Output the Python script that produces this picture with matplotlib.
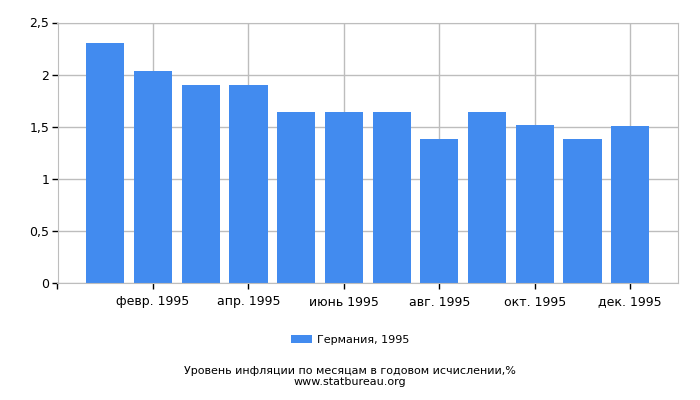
import matplotlib.pyplot as plt

months = ['янв. 1995', 'февр. 1995', 'март 1995', 'апр. 1995', 'май 1995', 'июнь 1995',
          'июль 1995', 'авг. 1995', 'сент. 1995', 'окт. 1995', 'нояб. 1995', 'дек. 1995']
inflation = [2.30, 2.03, 1.90, 1.90, 1.64, 1.64, 1.64, 1.38, 1.64, 1.52, 1.38, 1.51]
yticks = [0, 0.5, 1, 1.5, 2, 2.5]
ytick_labels = ['0', '0,5', '1', '1,5', '2', '2,5']

bar_color = '#428bef'
grid_color = '#bdbdbd'

fig = plt.figure(figsize=(7, 4), dpi=100)
ax = fig.add_axes([57.5 / 700, 1 - 283 / 400, 620.5 / 700, 260.5 / 400])

x = list(range(len(months)))
ax.bar(x, inflation, width=0.8, color=bar_color, label='Германия, 1995', zorder=2)

ax.set_xlim(-1, 12)
ax.set_ylim(0, 2.5)
ax.set_yticks(yticks)
ax.set_yticklabels(ytick_labels)

tick_pos = [-1] + x[1::2]
ax.set_xticks(tick_pos)
ax.set_xticklabels([''] + months[1::2])

ax.grid(True, color=grid_color, linewidth=1, zorder=0)
for s in ax.spines.values():
    s.set_color(grid_color)
ax.tick_params(axis='both', colors='black', labelsize=9, length=4, width=1)
ax.tick_params(axis='x', pad=5)
ax.tick_params(axis='y', pad=2)

fig.legend(loc='center', bbox_to_anchor=(0.5, 1 - 340 / 400), frameon=False,
           fontsize=8, handlelength=1.9, handleheight=0.7, handletextpad=0.4)
fig.text(0.5, 1 - 371 / 400, 'Уровень инфляции по месяцам в годовом исчислении,%',
         ha='center', va='center', fontsize=8)
fig.text(0.5, 1 - 382 / 400, 'www.statbureau.org', ha='center', va='center', fontsize=8)

fig.savefig('out.png', dpi=100)
